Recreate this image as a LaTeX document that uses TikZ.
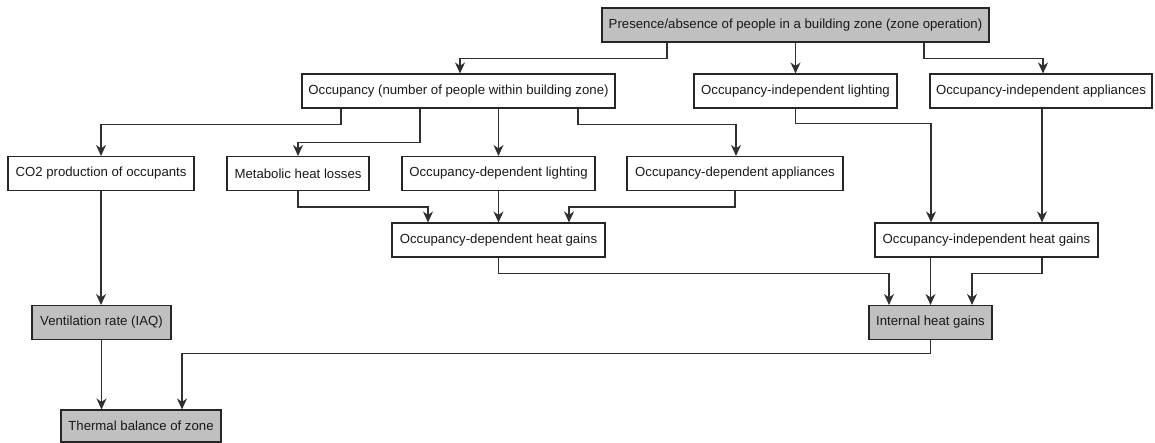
\documentclass[tikz,border=0pt]{standalone}
\usepackage{fontspec}
\setmainfont{Liberation Sans}
\usetikzlibrary{arrows.meta}
\definecolor{boxgray}{HTML}{C0C0C0}
\definecolor{linegray}{HTML}{303030}
\begin{document}
\begin{tikzpicture}[x=1pt,y=-1pt,
  box/.style={draw=black!85, line width=1.1pt, rectangle, inner sep=0pt,
    minimum height=34pt, font=\fontsize{13.2}{15}\selectfont, text=black!90},
  keybox/.style={box, fill=boxgray},
  arr/.style={draw=linegray, line width=1.1pt,
    -{Stealth[length=11pt,width=10pt,inset=3.5pt]}}]
\useasboundingbox (0,0) rectangle (1155,443);

% boxes
\node[keybox, minimum width=387pt] (top) at (795.5,25) {Presence/absence of people in a building zone (zone operation)};
\node[box, minimum width=313pt] (occ) at (458.5,91) {Occupancy (number of people within building zone)};
\node[box, minimum width=203pt] (ilight) at (795.5,91) {Occupancy-independent lighting};
\node[box, minimum width=222pt] (iappl) at (1041,91) {Occupancy-independent appliances};
\node[box, minimum width=186pt] (co2) at (101,173.5) {CO2 production of occupants};
\node[box, minimum width=142pt] (metab) at (298,173.5) {Metabolic heat losses};
\node[box, minimum width=193pt] (dlight) at (498.5,173.5) {Occupancy-dependent lighting};
\node[box, minimum width=216pt] (dappl) at (735,173.5) {Occupancy-dependent appliances};
\node[box, minimum width=213pt] (dheat) at (498.5,240) {Occupancy-dependent heat gains};
\node[box, minimum width=223pt] (iheat) at (986.5,240) {Occupancy-independent heat gains};
\node[keybox, minimum width=139pt] (vent) at (101.5,322.5) {Ventilation rate (IAQ)};
\node[keybox, minimum width=123pt] (internal) at (930.5,322.5) {Internal heat gains};
\node[keybox, minimum width=160pt, minimum height=32pt] (thermal) at (141,426) {Thermal balance of zone};

% connectors
\draw[arr] ([xshift=-128.5pt]top.south) -- ++(0,16) -| ([xshift=1.5pt]occ.north);
\draw[arr] (top.south) -- (ilight.north);
\draw[arr] ([xshift=128.5pt]top.south) -- ++(0,16) -| ([xshift=2pt]iappl.north);

\draw[arr] ([xshift=-117.5pt]occ.south) -- ++(0,16) -| (co2.north);
\draw[arr] ([xshift=-38.5pt]occ.south) -- ++(0,34) -| (metab.north);
\draw[arr] (occ.south -| dlight.north) -- (dlight.north);
\draw[arr] ([xshift=119.5pt]occ.south) -- ++(0,16) -| ([xshift=1pt]dappl.north);

\draw[arr] (ilight.south) -- ++(0,15) -| ([xshift=-55.5pt]iheat.north);
\draw[arr] ([xshift=55.5pt]iheat.north |- iappl.south) -- ([xshift=55.5pt]iheat.north);

\draw[arr] (co2.south) -- (co2.south |- vent.north);

\draw[arr] (metab.south) -- ++(0,16) -| ([xshift=-70.5pt]dheat.north);
\draw[arr] (dlight.south) -- (dheat.north);
\draw[arr] (dappl.south) -- ++(0,16) -| ([xshift=70.5pt]dheat.north);

\draw[arr] (dheat.south) -- ++(0,16) -| ([xshift=-41.5pt]internal.north);
\draw[arr] (iheat.south -| internal.north) -- (internal.north);
\draw[arr] ([xshift=55.5pt]iheat.south) -- ++(0,16) -| ([xshift=41.5pt]internal.north);

\draw[arr] (vent.south) -- (vent.south |- thermal.north);
\draw[arr] (internal.south) -- ++(0,13) -| ([xshift=41pt]thermal.north);
\end{tikzpicture}
\end{document}
